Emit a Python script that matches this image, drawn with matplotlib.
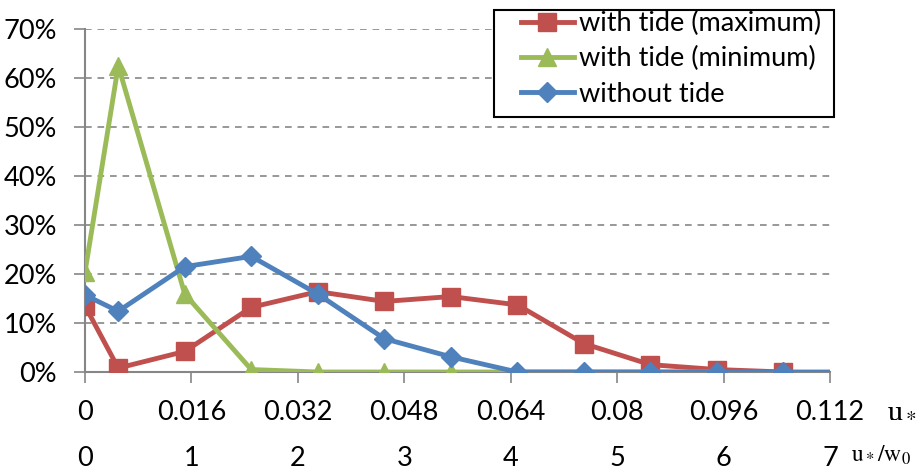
import numpy as np
import matplotlib
matplotlib.use("Agg")
from matplotlib import pyplot as plt
from matplotlib.ticker import PercentFormatter
from matplotlib.patches import Rectangle

# data (x in u*/w0 units, y in percent)
x = [0, 0.3125, 0.9375, 1.5625, 2.1875, 2.8125, 3.4375, 4.0625, 4.6875, 5.3125, 5.9375, 6.5625]
x_end = 7.0
tide_max = [13.5, 0.8, 4.2, 13.2, 16.4, 14.4, 15.4, 13.7, 5.8, 1.5, 0.5, 0.0]
tide_min = [20.4, 62.5, 15.9, 0.5, 0.0, 0.0, 0.0, 0.0, 0.0, 0.0, 0.0]
no_tide = [15.7, 12.4, 21.5, 23.6, 15.9, 6.8, 3.1, 0.0, 0.0, 0.0, 0.0, 0.0]

ustar_labels = ["0", "0.016", "0.032", "0.048", "0.064", "0.08", "0.096", "0.112"]
ratio_labels = ["0", "1", "2", "3", "4", "5", "6", "7"]

red = "#C0504D"
green = "#9BBB59"
blue = "#4F81BD"
gray = "#868686"

plt.rcParams['font.family'] = ['Lato', 'DejaVu Sans']
plt.rcParams['mathtext.fontset'] = 'stix'
fs = 19.5

fig = plt.figure(figsize=(9.2, 4.72), dpi=100, facecolor='white')
ax = fig.add_axes([85/920, 1 - 372/472, (830-85)/920, (372-29)/472])

ax.plot(x, tide_max, color=red, lw=3.5, marker='s', ms=13, label='with tide (maximum)', zorder=3)
ax.plot(x[:len(tide_min)], tide_min, color=green, lw=3.5, marker='^', ms=13.5, label='with tide (minimum)', zorder=4)
ax.plot(x + [x_end], no_tide + [no_tide[-1]], color=blue, lw=3.5, marker='D', ms=10.5,
        markevery=list(range(len(x))), label='without tide', zorder=5)

ax.set_xlim(0, 7)
ax.set_ylim(0, 70)
ax.set_yticks(np.arange(0, 71, 10))
ax.yaxis.set_major_formatter(PercentFormatter(decimals=0))
ax.set_xticks(range(8))
ax.set_xticklabels(ustar_labels)

ax.tick_params(axis='both', labelsize=fs, color=gray, length=8, width=1.2)
ax.tick_params(axis='x', pad=12)
ax.tick_params(axis='y', pad=12)

# second row of x labels: u*/w0
sec = ax.secondary_xaxis('bottom')
sec.set_xticks(range(8))
sec.set_xticklabels(ratio_labels)
sec.tick_params(axis='x', labelsize=fs, length=0, pad=53)
sec.spines['bottom'].set_visible(False)

for s in ['top', 'right']:
    ax.spines[s].set_visible(False)
for s in ['left', 'bottom']:
    ax.spines[s].set_color(gray)
    ax.spines[s].set_linewidth(1.5)

for yv in range(10, 71, 10):
    ax.axhline(yv, color=gray, lw=1.2, ls=(0, (4, 3.5)), zorder=1)

fig.text(887/920, 1 - 408/472, r'$\mathrm{u}_*$', fontsize=22, va='center', ha='left')
fig.text(851/920, 1 - 455/472, r'$\mathrm{u}_*/\mathrm{w}_0$', fontsize=17, va='center', ha='left')

# legend without frame, box drawn separately behind it
box = Rectangle((494/920, 1 - 117/472), (834-494)/920, (117-10)/472,
                transform=fig.transFigure, facecolor='white', edgecolor='black',
                lw=1.5, zorder=9, clip_on=False)
ax.add_patch(box)
leg = ax.legend(loc='upper left', bbox_to_anchor=(521/920, 1 - 11/472), bbox_transform=fig.transFigure,
                fontsize=fs, frameon=False, borderpad=0, labelspacing=0.38,
                handlelength=1.95, handletextpad=0.2, borderaxespad=0)
leg.set_zorder(10)

plt.savefig("out.png", dpi=100)
